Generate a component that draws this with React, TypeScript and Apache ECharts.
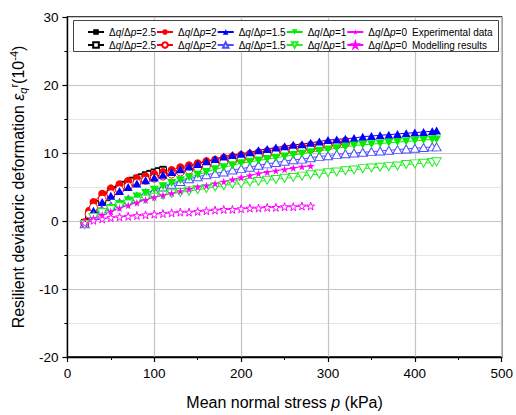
import React, { useEffect, useRef } from "react";
import * as echarts from "echarts";

// ---------- data ----------
const pBlack = [20, 25, 30, 35, 40, 45, 50, 55, 60, 65, 70, 75, 80, 85, 90, 95, 100, 105, 110];
const vBlackExp = [-0.2, 1.0, 1.9, 2.6, 3.2, 3.7, 4.2, 4.6, 5.0, 5.4, 5.7, 6.0, 6.3, 6.5, 6.8, 7.0, 7.2, 7.4, 7.6];
const vBlackMod = [-0.3, 0.9, 1.7, 2.4, 2.9, 3.5, 4.0, 4.4, 4.8, 5.2, 5.5, 5.8, 6.0, 6.3, 6.6, 6.8, 7.0, 7.2, 7.4];

const pRed = [20, 25, 30, 40, 50, 60, 70, 80, 90, 100, 110, 120, 130, 140, 150, 160, 170, 180, 190, 200, 210, 220, 230, 240, 250, 260, 270, 280, 290, 300, 310, 320];
const vRedExp = [-0.2, 1.5, 2.8, 4.0, 4.8, 5.4, 5.9, 6.3, 6.6, 6.9, 7.2, 7.5, 7.9, 8.2, 8.5, 8.8, 9.0, 9.3, 9.5, 9.7, 9.9, 10.1, 10.3, 10.5, 10.7, 10.9, 11.0, 11.2, 11.3, 11.5, 11.6, 11.8];
const vRedMod = [-0.3, 1.0, 2.0, 3.2, 4.0, 4.6, 5.1, 5.6, 6.0, 6.3, 6.6, 6.9, 7.2, 7.5, 7.8, 8.1, 8.3, 8.6, 8.8, 9.0, 9.3, 9.5, 9.7, 9.9, 10.1, 10.3, 10.5, 10.6, 10.8, 11.0, 11.2, 11.4];

const pLong = [20, 30, 40, 50, 60, 70, 80, 90, 100, 110, 120, 130, 140, 150, 160, 170, 180, 190, 200, 210, 220, 230, 240, 250, 260, 270, 280, 290, 300, 310, 320, 330, 340, 350, 360, 370, 380, 390, 400, 410, 420, 425];
const vBlueExp = [-0.3, 1.5, 2.8, 3.7, 4.4, 5.0, 5.5, 6.0, 6.4, 6.8, 7.2, 7.6, 8.0, 8.4, 8.8, 9.1, 9.5, 9.7, 9.9, 10.1, 10.4, 10.6, 10.8, 11.0, 11.2, 11.3, 11.5, 11.7, 11.9, 12.0, 12.1, 12.2, 12.4, 12.5, 12.6, 12.7, 12.8, 12.9, 13.0, 13.1, 13.2, 13.3];
const vBlueMod = [-0.4, 0.8, 1.6, 2.2, 2.7, 3.2, 3.6, 4.1, 4.5, 5.0, 5.4, 5.8, 6.2, 6.5, 6.8, 7.0, 7.2, 7.5, 7.7, 7.9, 8.2, 8.4, 8.6, 8.8, 9.0, 9.1, 9.3, 9.5, 9.6, 9.8, 9.9, 10.0, 10.1, 10.2, 10.3, 10.4, 10.5, 10.6, 10.7, 10.8, 10.9, 10.9];
const vGreenExp = [-0.5, 0.6, 1.3, 1.9, 2.5, 3.0, 3.6, 4.1, 4.6, 5.1, 5.6, 6.0, 6.4, 6.8, 7.2, 7.6, 7.9, 8.2, 8.5, 8.7, 8.9, 9.1, 9.3, 9.5, 9.7, 9.9, 10.1, 10.3, 10.5, 10.7, 10.9, 11.1, 11.2, 11.3, 11.4, 11.5, 11.6, 11.7, 11.8, 11.9, 12.0, 12.0];
const vGreenMod = [-0.5, 0.5, 1.2, 1.7, 2.1, 2.5, 2.9, 3.2, 3.5, 3.8, 4.0, 4.2, 4.4, 4.6, 4.8, 5.0, 5.2, 5.4, 5.5, 5.7, 5.8, 6.0, 6.1, 6.3, 6.4, 6.6, 6.8, 6.9, 7.1, 7.2, 7.4, 7.5, 7.7, 7.8, 7.9, 8.0, 8.1, 8.3, 8.4, 8.5, 8.6, 8.7];

const pMag = [20, 30, 40, 50, 60, 70, 80, 90, 100, 110, 120, 130, 140, 150, 160, 170, 180, 190, 200, 210, 220, 230, 240, 250, 260, 270, 280];
const vMagExp = [-0.3, 0.4, 0.9, 1.4, 1.9, 2.3, 2.7, 3.1, 3.5, 3.8, 4.1, 4.4, 4.7, 5.0, 5.2, 5.5, 5.8, 6.1, 6.4, 6.7, 7.0, 7.2, 7.4, 7.6, 7.8, 8.0, 8.1];
const vMagMod = [-0.3, 0.1, 0.3, 0.5, 0.6, 0.7, 0.8, 0.9, 1.0, 1.1, 1.2, 1.3, 1.3, 1.4, 1.5, 1.6, 1.7, 1.7, 1.8, 1.9, 1.9, 2.0, 2.0, 2.1, 2.1, 2.2, 2.2];

const ratios = ["2.5", "2", "1.5", "1", "0"];
const xTicks = { min: 0, max: 500, interval: 100 };
const yTicks = { min: -20, max: 30, interval: 10 };

const FONT = "'Liberation Sans', Arial, sans-serif";
const STAR = "path://M50,0 L61,35 L98,35 L68,57 L79,91 L50,70 L21,91 L32,57 L2,35 L39,35 Z";
const DOWN = "path://M0,0 L100,0 L50,87 Z";

const zip = (xs: number[], ys: number[]) => xs.map((x, i) => [x, ys[i]]);

function mk(name: string, data: number[][], color: string, symbol: string, size: number | number[], open: boolean) {
  return {
    name,
    type: "line",
    data,
    symbol,
    symbolSize: size,
    showSymbol: true,
    lineStyle: { color, width: 1 },
    itemStyle: open
      ? { color: "#ffffff", borderColor: color, borderWidth: 1 }
      : { color, borderColor: color, borderWidth: 0 },
    emphasis: { disabled: true },
  };
}

export default function App() {
  const ref = useRef<HTMLDivElement>(null);
  useEffect(() => {
    if (!ref.current) return;
    const chart = echarts.init(ref.current, null, { renderer: "svg" });
    const expNames = ratios.map((r) => "exp" + r);
    const modNames = ratios.map((r) => "mod" + r);
    const series = [
      mk(expNames[0], zip(pBlack, vBlackExp), "#000000", "rect", 7, false),
      mk(modNames[0], zip(pBlack, vBlackMod), "#000000", "rect", 7, true),
      mk(expNames[1], zip(pRed, vRedExp), "#ff0000", "circle", 8, false),
      mk(modNames[1], zip(pRed, vRedMod), "#ff0000", "circle", 8, true),
      mk(expNames[2], zip(pLong, vBlueExp), "#0000ff", "triangle", [9, 8], false),
      mk(modNames[2], zip(pLong, vBlueMod), "#4d4dff", "triangle", [9, 8], true),
      mk(expNames[3], zip(pLong, vGreenExp), "#00ee00", DOWN, [9, 8], false),
      mk(modNames[3], zip(pLong, vGreenMod), "#22ee22", DOWN, [9, 8], true),
      mk(expNames[4], zip(pMag, vMagExp), "#ff00ff", STAR, 8, false),
      mk(modNames[4], zip(pMag, vMagMod), "#ff00ff", STAR, 8, true),
    ];
    const fmt = (name: string) => {
      const r = name.slice(3);
      return "Δ{i|q}/Δ{i|p}=" + r;
    };
    const legendBase = {
      orient: "horizontal",
      left: 87,
      itemWidth: 16,
      itemHeight: 7,
      itemGap: 0,
      padding: 0,
      selectedMode: false,
      formatter: fmt,
      textStyle: {
        fontSize: 10,
        fontFamily: FONT,
        color: "#000",
        lineHeight: 12,
        rich: { i: { fontSize: 10, fontFamily: FONT, fontStyle: "italic", color: "#000", lineHeight: 12 } },
      },
      z: 20,
    };
    chart.setOption({
      animation: false,
      backgroundColor: "#ffffff",
      grid: {
        left: 65.5,
        right: 11,
        top: 17,
        bottom: 58,
        show: true,
        borderColor: "#000",
        borderWidth: 1.3,
      },
      legend: [
        { ...legendBase, top: 26, data: expNames },
        { ...legendBase, top: 39, data: modNames },
      ],
      graphic: [
        {
          type: "rect",
          shape: { x: 73.5, y: 20.5, width: 425, height: 31 },
          style: { fill: "#ffffff", stroke: "#444444", lineWidth: 1 },
          z: 10,
        },
        {
          type: "text",
          x: 412,
          y: 32,
          style: { text: "Experimental data", fontSize: 10, fontFamily: FONT, fill: "#000", verticalAlign: "middle" },
          z: 30,
        },
        {
          type: "text",
          x: 412,
          y: 45,
          style: { text: "Modelling results", fontSize: 10, fontFamily: FONT, fill: "#000", verticalAlign: "middle" },
          z: 30,
        },
      ],
      xAxis: {
        type: "value",
        min: xTicks.min,
        max: xTicks.max,
        interval: xTicks.interval,
        name: "Mean normal stress {i|p} (kPa)",
        nameLocation: "middle",
        nameGap: 37,
        nameTextStyle: {
          fontSize: 16,
          fontFamily: FONT,
          color: "#000",
          rich: { i: { fontSize: 16, fontFamily: FONT, fontStyle: "italic", color: "#000" } },
        },
        axisLine: { show: true, onZero: false, lineStyle: { color: "#000", width: 1.3 } },
        axisTick: { show: true, length: 5, lineStyle: { color: "#000", width: 1.2 } },
        minorTick: { show: true, splitNumber: 2, length: 3, lineStyle: { color: "#000", width: 1 } },
        axisLabel: { fontSize: 13.5, fontFamily: FONT, color: "#000", margin: 9 },
        splitLine: { show: true, lineStyle: { color: "#c4c4c4", width: 1.2 } },
      },
      yAxis: {
        type: "value",
        min: yTicks.min,
        max: yTicks.max,
        interval: yTicks.interval,
        name: "Resilient deviatoric deformation {e|ε}{sub|q}{sup|r}(10{sup|-4})",
        nameLocation: "middle",
        nameRotate: 90,
        nameGap: 34,
        nameTextStyle: {
          fontSize: 16,
          fontFamily: FONT,
          color: "#000",
          lineHeight: 20,
          rich: {
            e: { fontSize: 16, fontFamily: FONT, fontStyle: "italic", color: "#000", lineHeight: 20 },
            sub: { fontSize: 11, fontFamily: FONT, fontStyle: "italic", color: "#000", lineHeight: 11, verticalAlign: "bottom" },
            sup: { fontSize: 11, fontFamily: FONT, color: "#000", lineHeight: 11, verticalAlign: "top" },
          },
        },
        axisLine: { show: true, onZero: false, lineStyle: { color: "#000", width: 1.3 } },
        axisTick: { show: true, length: 5, lineStyle: { color: "#000", width: 1.2 } },
        minorTick: { show: true, splitNumber: 2, length: 3, lineStyle: { color: "#000", width: 1 } },
        axisLabel: { fontSize: 13.5, fontFamily: FONT, color: "#000", margin: 9 },
        splitLine: { show: true, lineStyle: { color: "#c4c4c4", width: 1.2 } },
        minorSplitLine: { show: true, lineStyle: { color: "#e6e6e6", width: 1 } },
      },
      series,
    });
    return () => chart.dispose();
  }, []);
  return <div ref={ref} style={{ position: "absolute", left: 0, top: 0, width: 516, height: 415 }} />;
}
